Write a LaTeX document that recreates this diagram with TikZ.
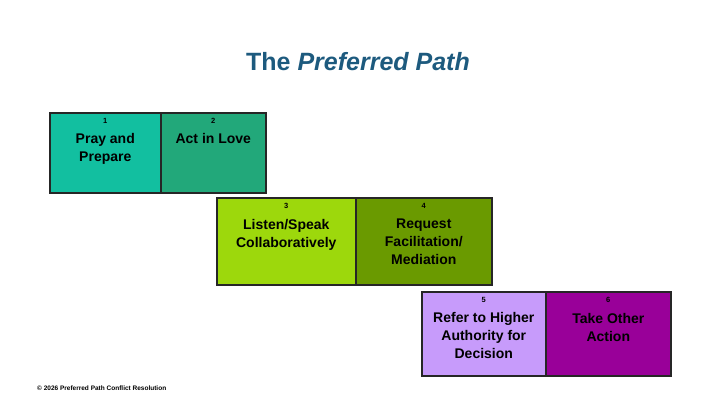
\documentclass[tikz,border=0pt]{standalone}
\usepackage{fontspec}
\setmainfont{Liberation Sans}
\usepackage{xcolor}
\usetikzlibrary{positioning}
\definecolor{titleblue}{HTML}{1D5A7E}
\definecolor{stepA}{HTML}{12BFA0}
\definecolor{stepB}{HTML}{22A87A}
\definecolor{stepC}{HTML}{9DD80C}
\definecolor{stepD}{HTML}{6A9A00}
\definecolor{stepE}{HTML}{C79BFB}
\definecolor{stepF}{HTML}{990099}
\begin{document}
\begin{tikzpicture}[x=1pt,y=-1pt,
        step box/.style={rectangle,draw=black!85,line width=1.6pt,anchor=north west,inner sep=0pt},
        step num/.style={font=\bfseries\fontsize{7.5}{8}\selectfont,inner sep=0pt},
        step text/.style={font=\bfseries\fontsize{14}{18}\selectfont,align=center,inner sep=0pt,anchor=north}
      ]
      \useasboundingbox (0,0) rectangle (720,405);
      \node[font=\bfseries\fontsize{25}{28}\selectfont,text=titleblue] (title) at (358,62) {The \textit{Preferred Path}};

      % first row
      \node[step box,fill=stepA,minimum width=111pt,minimum height=80pt] (s1) at (49,112) {};
      \node[step box,fill=stepB,minimum width=105pt,minimum height=80pt] (s2) at (160,112) {};
      % second row
      \node[step box,fill=stepC,minimum width=139pt,minimum height=87pt] (s3) at (216,197) {};
      \node[step box,fill=stepD,minimum width=136pt,minimum height=87pt] (s4) at (355,197) {};
      % third row
      \node[step box,fill=stepE,minimum width=124pt,minimum height=84pt] (s5) at (421,291) {};
      \node[step box,fill=stepF,minimum width=125pt,minimum height=84pt] (s6) at (545,291) {};

      \foreach \s/\n/\t in {s1/1/{Pray and\\Prepare},s2/2/{Act in Love},s3/3/{Listen/Speak\\Collaboratively},
          s4/4/{Request\\Facilitation/\\Mediation},s5/5/{Refer to Higher\\Authority for\\Decision},s6/6/{Take Other\\Action}}{
        \node[step num,below=6pt of \s.north] (\s n) {\n};
        \node[step text,below=10pt of \s n] (\s t) {\t};
      }

      \node[font=\bfseries\fontsize{6.5}{7}\selectfont,anchor=west,inner sep=0pt] (copy) at (37,388) {© 2026 Preferred Path Conflict Resolution};
    \end{tikzpicture}
\end{document}
